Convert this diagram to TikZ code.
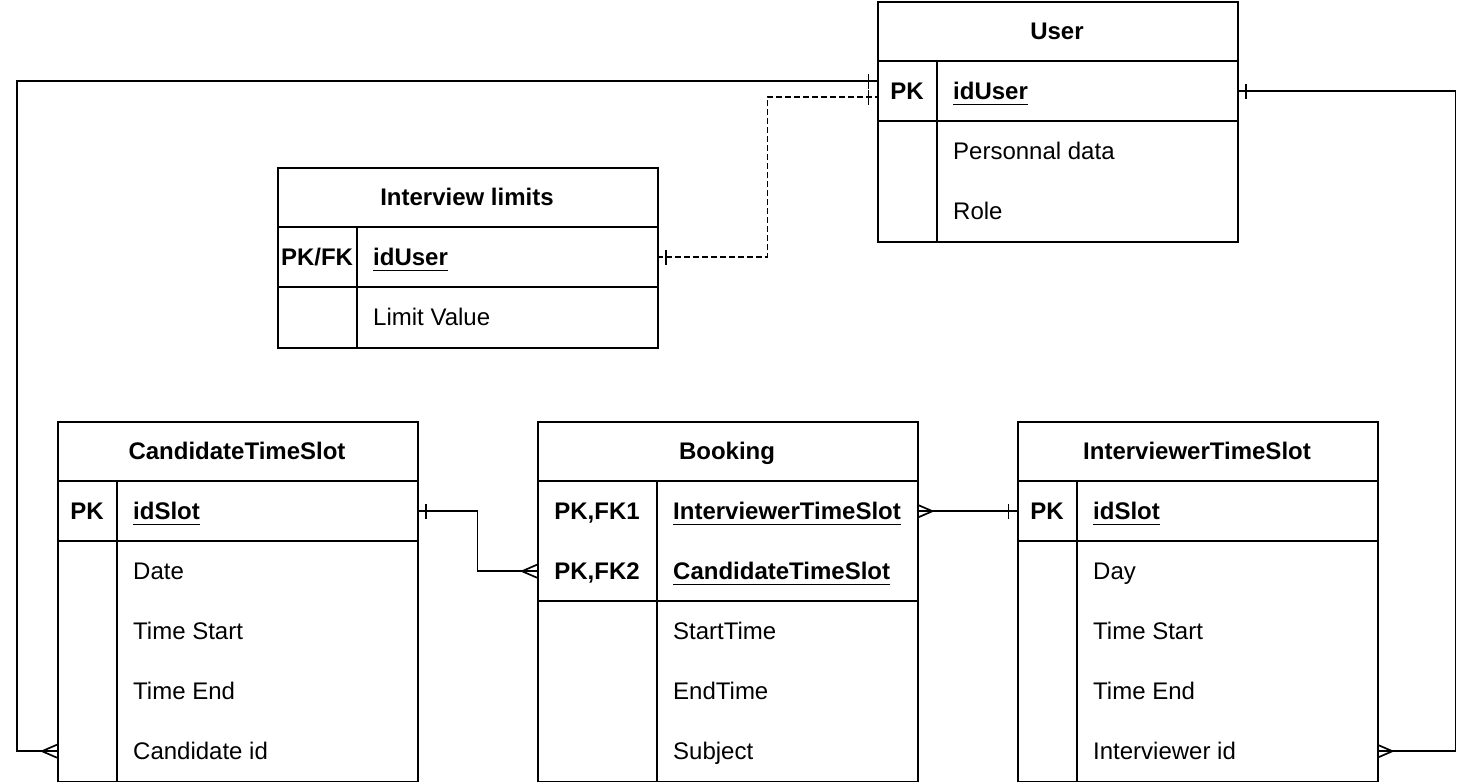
\documentclass[tikz,border=0pt]{standalone}
\usepackage{fontspec}
\setmainfont{Liberation Sans}
\usetikzlibrary{calc,decorations.markings}
\newcommand\ulbox[1]{\setbox0\hbox{#1}\rlap{\rule[-5.5pt]{\wd0}{1.6pt}}\box0}
\newcommand\dfont{\fontsize{24}{28}\selectfont}
\tikzset{
 ln/.style={line width=1.7pt},
 tblbox/.style={draw, ln, anchor=north west, inner sep=0pt},
 rowbox/.style={anchor=north west, inner sep=0pt, minimum height=60pt},
 hdrtxt/.style={anchor=base, inner sep=0pt, font=\dfont\bfseries},
 keytxt/.style={anchor=base, inner sep=0pt, font=\dfont\bfseries},
 fldtxt/.style={anchor=base west, inner sep=0pt, font=\dfont},
 pktxt/.style={anchor=base west, inner sep=0pt, font=\dfont\bfseries},
 conn/.style={ln, line join=miter},
 bar start/.style={postaction={decorate, decoration={markings, mark=at position 8.5pt with {\draw[solid, ln] (0pt,-7.5pt) -- (0pt,7.5pt);}}}},
 bar end/.style={postaction={decorate, decoration={markings, mark=at position -8.5pt with {\draw[solid, ln] (0pt,-7.5pt) -- (0pt,7.5pt);}}}},
 crow start/.style={postaction={decorate, decoration={markings, mark=at position 15pt with {\draw[solid, ln] (-15pt,-6.5pt) -- (0pt,0pt) -- (-15pt,6.5pt);}}}},
 crow end/.style={postaction={decorate, decoration={markings, mark=at position -15pt with {\draw[solid, ln] (15pt,-6.5pt) -- (0pt,0pt) -- (15pt,6.5pt);}}}},
}
\begin{document}
\begin{tikzpicture}[x=1pt,y=-1pt,font=\dfont]
\useasboundingbox (0,0) rectangle (1476,782);
% ---------- User ----------
\node[tblbox, minimum width=360pt, minimum height=240pt] (user) at (877,1) {};
\node[rowbox, minimum width=360pt] (userr1) at (877,61) {};
\draw[ln] (877,61) -- (1237,61) (877,121) -- (1237,121) (937,61) -- (937,241);
\node[hdrtxt] (userh) at (1057,39.6) {User};
\node[keytxt] (userk1) at (907,99.6) {PK};
\node[pktxt] (userf1) at (953,99.6) {\ulbox{idUser}};
\node[fldtxt] (userf2) at (953,159.6) {Personnal data};
\node[fldtxt] (userf3) at (953,219.6) {Role};
% ---------- Interview limits ----------
\node[tblbox, minimum width=380pt, minimum height=180pt] (il) at (277,167) {};
\node[rowbox, minimum width=380pt] (ilr1) at (277,227) {};
\draw[ln] (277,227) -- (657,227) (277,287) -- (657,287) (357,227) -- (357,347);
\node[hdrtxt] (ilh) at (467,205.6) {Interview limits};
\node[keytxt] (ilk1) at (317,265.6) {PK/FK};
\node[pktxt] (ilf1) at (373,265.6) {\ulbox{idUser}};
\node[fldtxt] (ilf2) at (373,325.6) {Limit Value};
% ---------- CandidateTimeSlot ----------
\node[tblbox, minimum width=360pt, minimum height=360pt] (cts) at (57,421) {};
\node[rowbox, minimum width=360pt] (ctsr1) at (57,481) {};
\node[rowbox, minimum width=360pt] (ctsr5) at (57,721) {};
\draw[ln] (57,481) -- (417,481) (57,541) -- (417,541) (117,481) -- (117,781);
\node[hdrtxt] (ctsh) at (237,459.6) {CandidateTimeSlot};
\node[keytxt] (ctsk1) at (87,519.6) {PK};
\node[pktxt] (ctsf1) at (133,519.6) {\ulbox{idSlot}};
\node[fldtxt] (ctsf2) at (133,579.6) {Date};
\node[fldtxt] (ctsf3) at (133,639.6) {Time Start};
\node[fldtxt] (ctsf4) at (133,699.6) {Time End};
\node[fldtxt] (ctsf5) at (133,759.6) {Candidate id};
% ---------- Booking ----------
\node[tblbox, minimum width=380pt, minimum height=360pt] (bk) at (537,421) {};
\node[rowbox, minimum width=380pt] (bkr1) at (537,481) {};
\node[rowbox, minimum width=380pt] (bkr2) at (537,541) {};
\draw[ln] (537,481) -- (917,481) (537,601) -- (917,601) (657,481) -- (657,781);
\node[hdrtxt] (bkh) at (727,459.6) {Booking};
\node[keytxt] (bkk1) at (597,519.6) {PK,FK1};
\node[pktxt] (bkf1) at (673,519.6) {\ulbox{InterviewerTimeSlot}};
\node[keytxt] (bkk2) at (597,579.6) {PK,FK2};
\node[pktxt] (bkf2) at (673,579.6) {\ulbox{CandidateTimeSlot}};
\node[fldtxt] (bkf3) at (673,639.6) {StartTime};
\node[fldtxt] (bkf4) at (673,699.6) {EndTime};
\node[fldtxt] (bkf5) at (673,759.6) {Subject};
% ---------- InterviewerTimeSlot ----------
\node[tblbox, minimum width=360pt, minimum height=360pt] (its) at (1017,421) {};
\node[rowbox, minimum width=360pt] (itsr1) at (1017,481) {};
\node[rowbox, minimum width=360pt] (itsr5) at (1017,721) {};
\draw[ln] (1017,481) -- (1377,481) (1017,541) -- (1377,541) (1077,481) -- (1077,781);
\node[hdrtxt] (itsh) at (1197,459.6) {InterviewerTimeSlot};
\node[keytxt] (itsk1) at (1047,519.6) {PK};
\node[pktxt] (itsf1) at (1093,519.6) {\ulbox{idSlot}};
\node[fldtxt] (itsf2) at (1093,579.6) {Day};
\node[fldtxt] (itsf3) at (1093,639.6) {Time Start};
\node[fldtxt] (itsf4) at (1093,699.6) {Time End};
\node[fldtxt] (itsf5) at (1093,759.6) {Interviewer id};
% ---------- connectors ----------
\draw[conn, bar start, crow end] ($(userr1.west)+(0,-10)$) -- ++(-860,0) |- (ctsr5.west);
\draw[conn, dash pattern=on 6pt off 3pt, bar start, bar end] (ilr1.east) -- ++(110,0) |- ($(userr1.west)+(0,6)$);
\draw[conn, bar start, crow end] (userr1.east) -- ++(218,0) |- (itsr5.east);
\draw[conn, bar start, crow end] (ctsr1.east) -- ++(60,0) |- (bkr2.west);
\draw[conn, crow start, bar end] (bkr1.east) -- (itsr1.west);
\end{tikzpicture}
\end{document}
